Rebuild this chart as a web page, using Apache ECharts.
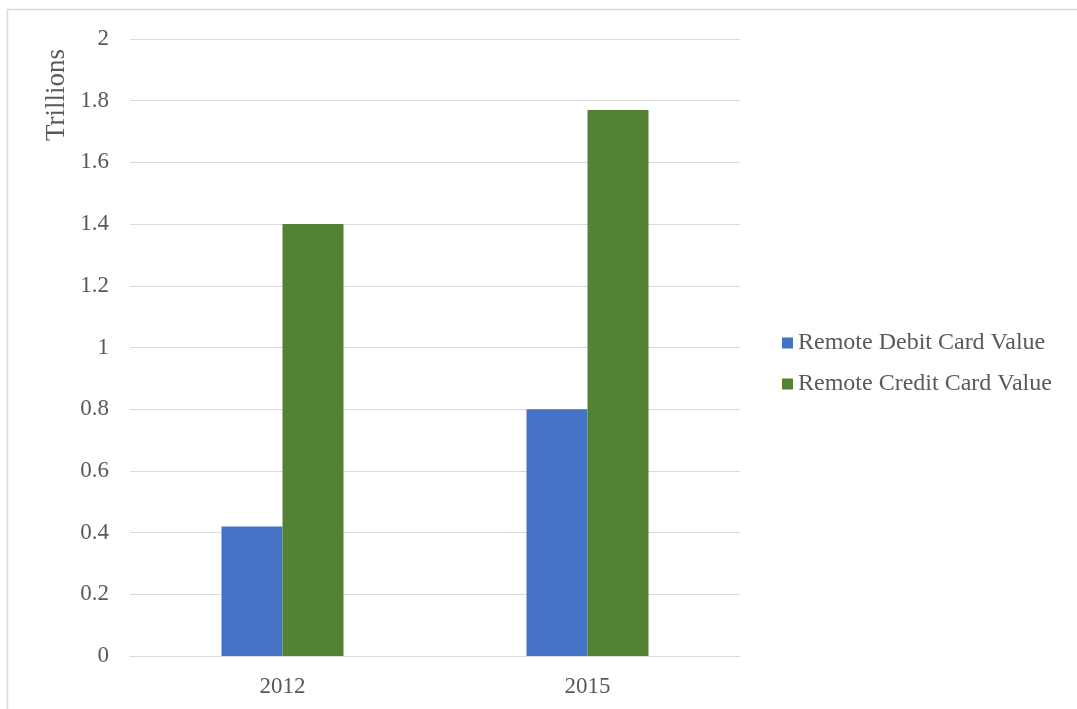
<!DOCTYPE html>
<html>
<head>
<meta charset="utf-8">
<script src="https://cdn.jsdelivr.net/npm/echarts@6/dist/echarts.min.js"></script>
<style>
  html, body { margin: 0; padding: 0; background: #fff; }
  #chart { width: 1077px; height: 709px; }
</style>
</head>
<body>
<div id="chart"></div>
<script>
// Remote card payment values, in trillions
const years = ['2012', '2015'];
const debitValues = [0.42, 0.80];
const creditValues = [1.40, 1.77];
const seriesNames = ['Remote Debit Card Value', 'Remote Credit Card Value'];
const yTicks = { min: 0, max: 2, interval: 0.2 };
const axisTitle = 'Trillions';

const textColor = '#595959';
const fontFamily = '"Liberation Serif", "Times New Roman", serif';

const chart = echarts.init(document.getElementById('chart'));
chart.setOption({
  animation: false,
  backgroundColor: '#fff',
  textStyle: { fontFamily: fontFamily, color: textColor },
  graphic: [
    {
      type: 'rect',
      shape: { x: 7.5, y: 9.5, width: 1200, height: 800 },
      style: { fill: 'none', stroke: '#d9d9d9', lineWidth: 1.5 },
      silent: true
    },
    {
      type: 'text',
      x: 57, y: 95,
      rotation: Math.PI / 2,
      style: {
        text: axisTitle,
        font: '27px ' + fontFamily,
        fill: textColor,
        textAlign: 'center',
        textVerticalAlign: 'middle'
      }
    }
  ],
  grid: { left: 130, right: 337, top: 39, bottom: 53 },
  legend: {
    orient: 'vertical',
    left: 777,
    top: 326,
    itemWidth: 11,
    itemHeight: 11,
    itemGap: 17,
    icon: 'rect',
    textStyle: { fontFamily: fontFamily, fontSize: 24, color: textColor, padding: [0, 0, 0, 0] },
    data: seriesNames
  },
  xAxis: {
    type: 'category',
    data: years,
    axisLine: { lineStyle: { color: '#d9d9d9', width: 1 } },
    axisTick: { show: false },
    axisLabel: { fontFamily: fontFamily, fontSize: 23, color: textColor, margin: 19 }
  },
  yAxis: {
    type: 'value',
    min: yTicks.min,
    max: yTicks.max,
    interval: yTicks.interval,
    axisLine: { show: false },
    axisTick: { show: false },
    splitLine: { lineStyle: { color: '#d9d9d9', width: 1 } },
    axisLabel: {
      fontFamily: fontFamily, fontSize: 23, color: textColor, margin: 21,
      formatter: function (v) { return String(Math.round(v * 10) / 10); }
    }
  },
  series: [
    {
      name: seriesNames[0],
      type: 'bar',
      data: debitValues,
      barWidth: 61,
      barGap: '0%',
      itemStyle: { color: '#4472C4' }
    },
    {
      name: seriesNames[1],
      type: 'bar',
      data: creditValues,
      barWidth: 61,
      barGap: '0%',
      itemStyle: { color: '#548235' }
    }
  ]
});
</script>
</body>
</html>
